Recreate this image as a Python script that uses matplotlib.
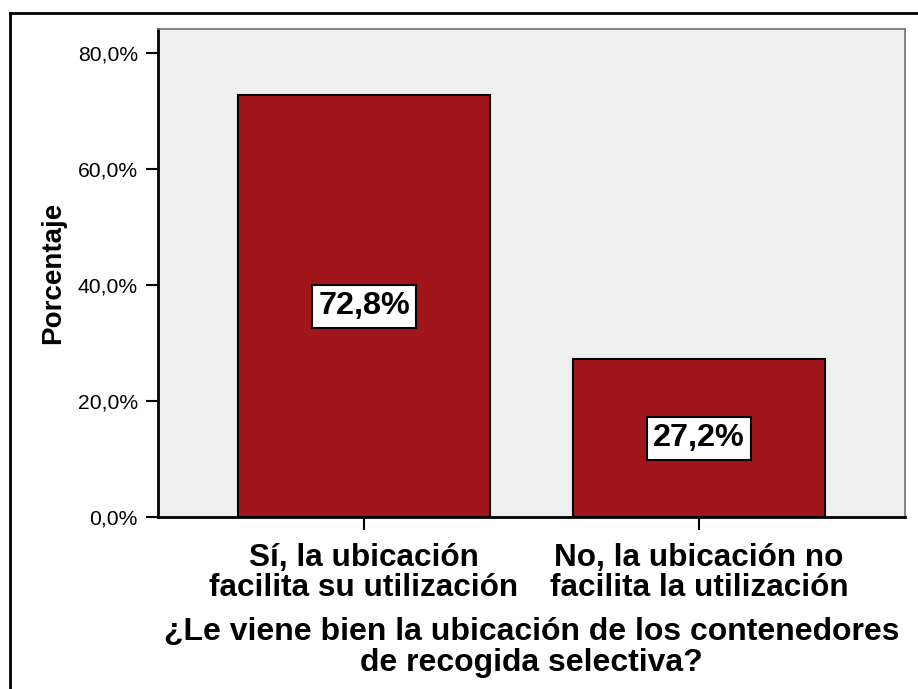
import matplotlib
matplotlib.use("Agg")
import matplotlib.pyplot as plt
from matplotlib.lines import Line2D

# data
categorias = ["Sí, la ubicación\nfacilita su utilización",
              "No, la ubicación no\nfacilita la utilización"]
porcentajes = [72.8, 27.2]
etiquetas = ["72,8%", "27,2%"]
yticks = [0, 20, 40, 60, 80]
ytick_labels = ["0,0%", "20,0%", "40,0%", "60,0%", "80,0%"]

plt.rcParams['font.family'] = ['Liberation Sans', 'DejaVu Sans']

W, H = 918, 689
fig = plt.figure(figsize=(W / 100, H / 100), dpi=100)
ax = fig.add_axes([158 / W, 1 - 517 / H, (905 - 158) / W, (517 - 29) / H])
ax.set_facecolor("#efefef")

x = list(range(len(categorias)))
ax.bar(x, porcentajes, width=0.755, color="#a0161a", edgecolor="black", linewidth=1.5, zorder=2)

for xi, v, lab in zip(x, porcentajes, etiquetas):
    ax.text(xi, v / 2, lab, ha="center", va="center", fontsize=23.3, fontweight="bold",
            bbox=dict(boxstyle="square,pad=0.2", fc="white", ec="black", lw=1.5), zorder=3)

ax.set_xlim(-0.615, 1.615)
ax.set_ylim(0, 84.2)
ax.set_yticks(yticks)
ax.set_yticklabels(ytick_labels, fontsize=15.2)
ax.set_xticks(x)
ax.set_xticklabels(categorias, fontsize=22.7, fontweight="bold", linespacing=1.03)
ax.tick_params(axis="y", length=9, width=1.5, pad=5.5)
ax.tick_params(axis="x", length=9, width=1.5, pad=9.5)

for s in ["left", "bottom"]:
    ax.spines[s].set_linewidth(2)
    ax.spines[s].set_color("black")
for s in ["top", "right"]:
    ax.spines[s].set_linewidth(1.2)
    ax.spines[s].set_color("#707070")

ax.set_ylabel("Porcentaje", fontsize=20, fontweight="bold", labelpad=8)
ax.set_xlabel("¿Le viene bien la ubicación de los contenedores\nde recogida selectiva?",
              fontsize=23, fontweight="bold", linespacing=1.03, labelpad=10)

# outer frame (left and top only visible)
fig.add_artist(Line2D([9.5 / W, 9.5 / W], [0, 1 - 12.5 / H], color="black", lw=2))
fig.add_artist(Line2D([9.5 / W, 1], [1 - 12.5 / H, 1 - 12.5 / H], color="black", lw=2))

fig.savefig("out.png", dpi=100)
